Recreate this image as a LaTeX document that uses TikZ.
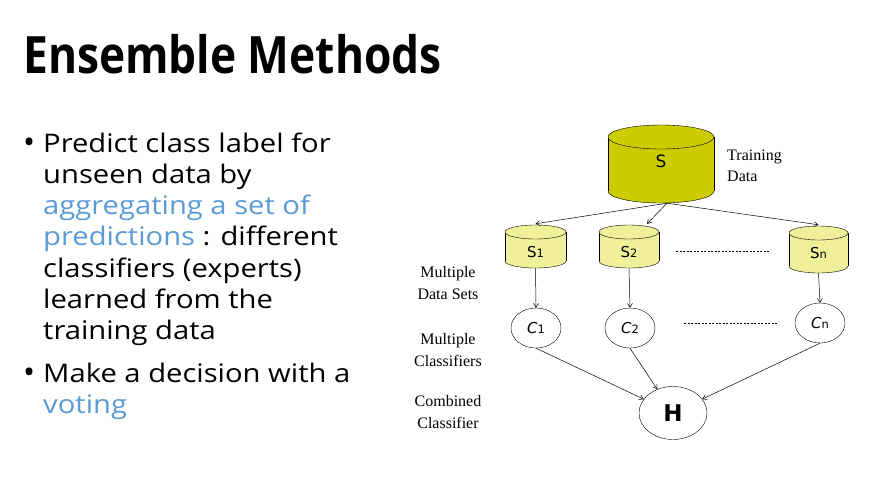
\documentclass[tikz,border=0pt]{standalone}
\usepackage{fontspec}
\setmainfont{Open Sans}
\newfontfamily\titlef[FakeStretch=0.86]{Open Sans}
\newfontfamily\bodyf[FakeStretch=1.14]{Open Sans}
\newfontfamily\serifff{Liberation Serif}
\newfontfamily\lblf{DejaVu Sans}
\usetikzlibrary{arrows.meta,shapes.geometric}
\definecolor{cylDark}{HTML}{CCCC00}
\definecolor{cylLight}{HTML}{F0F09A}
\definecolor{hlblue}{HTML}{5B9BD5}
\newcommand\mycyl[9]{%
  \path[fill=#7,draw] (#2,#4-#6) ellipse[x radius=#5pt, y radius=#6pt];
  \path[fill=#7] (#2-#5,#3+#6) rectangle (#2+#5,#4-#6);
  \draw (#2-#5,#3+#6) -- (#2-#5,#4-#6) (#2+#5,#3+#6) -- (#2+#5,#4-#6);
  \path[fill=#7,draw] (#2,#3+#6) ellipse[x radius=#5pt, y radius=#6pt];
  \node[inner sep=0pt, minimum width={2*#5pt}, minimum height={(#4-#3)*1pt}] (#1) at (#2,{(#3+#4)/2}) {};
  \node[lbl] at (#2,#8) {#9};
}
\newcommand\subsc[1]{{\upshape\fontsize{11.5}{11.5}\selectfont #1}}
\begin{document}
\begin{tikzpicture}[x=1pt,y=-1pt,
  lbl/.style={inner sep=0pt, font=\lblf\fontsize{15}{15}\selectfont},
  sidelbl/.style={align=center, inner sep=0pt, font=\serifff\fontsize{16}{21.5}\selectfont},
  cls/.style={ellipse, draw, minimum width=50pt, minimum height=40pt, inner sep=0pt, font=\lblf\itshape\fontsize{15}{15}\selectfont},
  arr/.style={-{Straight Barb[length=4pt,width=5pt]}, line width=0.5pt},
  dashline/.style={dash pattern=on 2pt off 1.5pt, line width=0.5pt},
  body/.style={anchor=base west, inner sep=0pt, font=\bodyf\fontsize{25.6}{25.6}\selectfont},
  bul/.style={anchor=base west, inner sep=0pt, font=\fontsize{32}{32}\selectfont}
]
\useasboundingbox[fill=white] (0,0) rectangle (890,483);

% title
\node[anchor=base west, inner sep=0pt, font=\titlef\bfseries\fontsize{51.5}{51.5}\selectfont] (title) at (23,73) {Ensemble Methods};

% bullets
\node[bul] (b1) at (23,153.5) {•};
\node[body] (l1) at (43,152) {Predict class label for};
\node[body] (l2) at (43,183.3) {unseen data by};
\node[body, text=hlblue] (l3) at (43,214.5) {aggregating a set of};
\node[body] (l4) at (43,245.8) {{\color{hlblue}predictions} : different};
\node[body] (l5) at (43,277) {classifiers (experts)};
\node[body] (l6) at (43,308.3) {learned from the};
\node[body] (l7) at (43,339.6) {training data};
\node[bul] (b2) at (23,383.5) {•};
\node[body] (m1) at (43,382) {Make a decision with a};
\node[body, text=hlblue] (m2) at (43,413.3) {voting};

% cylinders
\mycyl{S}{661}{125}{203}{53}{12}{cylDark}{161}{\fontsize{17}{17}\selectfont S}
\mycyl{S1}{535.5}{225}{268}{30.5}{7}{cylLight}{252}{S\subsc{1}}
\mycyl{S2}{629}{225}{268}{30}{7}{cylLight}{252}{S\subsc{2}}
\mycyl{Sn}{818.5}{226}{273}{29.5}{7}{cylLight}{253}{S\subsc{n}}

% classifiers
\node[cls] (C1) at (536,328) {C\subsc{1}};
\node[cls] (C2) at (630,328) {C\subsc{2}};
\node[cls] (Cn) at (820,323) {C\subsc{n}};
\node[ellipse, draw, minimum width=68pt, minimum height=53pt, inner sep=0pt, font=\lblf\bfseries\fontsize{23}{23}\selectfont] (H) at (673,413) {H};

% side labels
\node[sidelbl, align=left, anchor=west] (tdl) at (727,166) {Training\\Data};
\node[sidelbl] (mds) at (448,283) {Multiple\\Data Sets};
\node[sidelbl] (mcl) at (448,350) {Multiple\\Classifiers};
\node[sidelbl] (ccl) at (448,412) {Combined\\Classifier};

% connectors
\draw[arr] ([xshift=6pt]S.south) -- ([yshift=1pt]S1.north);
\draw[arr] ([xshift=6pt]S.south) -- ([xshift=18pt,yshift=1pt]S2.north);
\draw[arr] ([xshift=6pt]S.south) -- ([yshift=1pt]Sn.north);
\draw[arr] (S1.south) -- (C1.north);
\draw[arr] (S2.south) -- (C2.north);
\draw[arr] (Sn.south) -- (Cn.north);
\draw[arr] (C1.south) -- (H);
\draw[arr] (C2.south) -- (H);
\draw[arr] (Cn.south) -- (H);

% dotted continuation
\coordinate (d1a) at (676,251); \coordinate (d1b) at (770,251);
\coordinate (d2a) at (684,323); \coordinate (d2b) at (778,323);
\draw[dashline] (d1a) -- (d1b);
\draw[dashline] (d2a) -- (d2b);
\end{tikzpicture}
\end{document}
